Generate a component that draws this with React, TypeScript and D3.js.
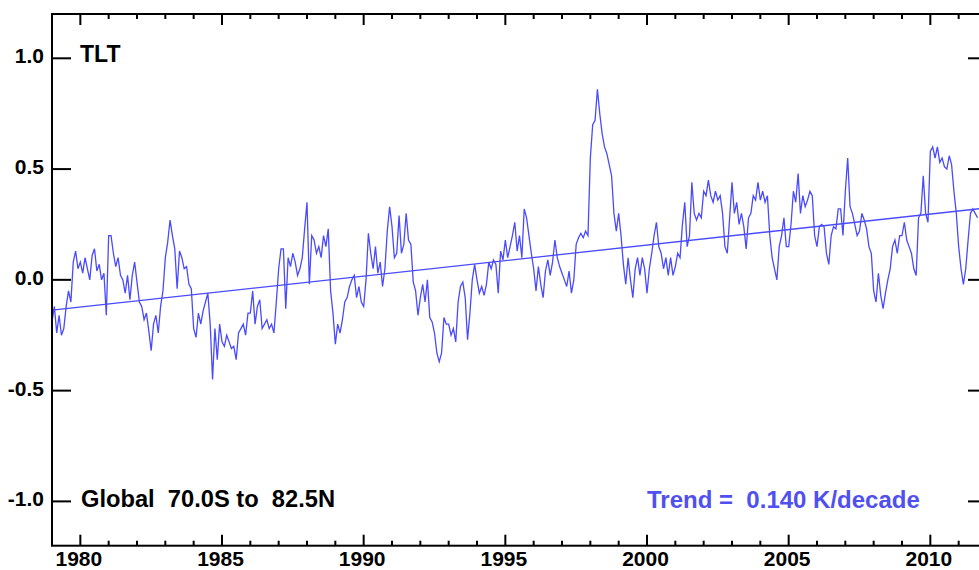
import React from "react";
import * as d3 from "d3";

// Monthly TLT anomalies (K), Jan of each year onward
const y1979 = [-0.19, -0.12, -0.24, -0.16, -0.25, -0.22, -0.12, -0.05, -0.10, 0.08, 0.13, 0.05];
const y1980 = [0.08, 0.03, 0.10, 0.05, 0.00, 0.11, 0.14, 0.04, 0.07, 0.00, 0.03, -0.16];
const y1981 = [0.20, 0.20, 0.12, 0.06, 0.10, 0.02, 0.00, -0.06, 0.02, -0.09, 0.02, 0.08];
const y1982 = [-0.01, -0.10, -0.12, -0.18, -0.15, -0.23, -0.32, -0.20, -0.16, -0.24, -0.12, -0.05];
const y1983 = [0.10, 0.17, 0.27, 0.20, 0.14, -0.04, 0.13, 0.10, 0.05, 0.06, -0.02, -0.04];
const y1984 = [-0.22, -0.26, -0.15, -0.20, -0.14, -0.10, -0.06, -0.20, -0.45, -0.22, -0.36, -0.20];
const y1985 = [-0.28, -0.30, -0.25, -0.28, -0.31, -0.30, -0.36, -0.24, -0.22, -0.20, -0.25, -0.15];
const y1986 = [-0.15, -0.05, -0.20, -0.12, -0.09, -0.22, -0.20, -0.18, -0.22, -0.20, -0.24, -0.10];
const y1987 = [0.05, 0.14, 0.14, -0.13, 0.10, 0.06, 0.12, 0.08, 0.02, 0.05, 0.10, 0.23];
const y1988 = [0.35, -0.02, 0.20, 0.18, 0.12, 0.15, 0.10, 0.20, 0.15, 0.23, -0.05, -0.15];
const y1989 = [-0.29, -0.20, -0.24, -0.18, -0.10, -0.08, -0.03, 0.00, 0.02, -0.08, -0.03, -0.10];
const y1990 = [-0.12, 0.00, 0.21, 0.12, 0.05, 0.15, 0.03, 0.08, -0.03, 0.05, 0.22, 0.33];
const y1991 = [0.24, 0.10, 0.12, 0.29, 0.12, 0.16, 0.30, 0.18, 0.16, -0.01, -0.05, -0.16];
const y1992 = [-0.08, -0.02, -0.10, 0.00, -0.17, -0.19, -0.24, -0.33, -0.37, -0.33, -0.17, -0.20];
const y1993 = [-0.20, -0.25, -0.22, -0.28, -0.10, -0.03, -0.01, -0.08, -0.27, -0.15, 0.00, 0.07];
const y1994 = [0.00, -0.06, -0.03, -0.07, -0.02, 0.08, 0.05, 0.09, 0.07, -0.06, 0.13, 0.09];
const y1995 = [0.18, 0.10, 0.15, 0.20, 0.26, 0.13, 0.20, 0.10, 0.32, 0.28, 0.20, 0.12];
const y1996 = [0.05, -0.05, 0.06, -0.02, -0.08, 0.04, 0.09, 0.02, 0.08, 0.18, 0.10, 0.06];
const y1997 = [0.03, 0.00, -0.03, 0.04, -0.06, 0.00, 0.16, 0.19, 0.21, 0.19, 0.22, 0.20];
const y1998 = [0.55, 0.70, 0.72, 0.86, 0.75, 0.66, 0.60, 0.57, 0.52, 0.47, 0.30, 0.22];
const y1999 = [0.30, 0.20, 0.07, -0.02, 0.10, 0.00, -0.08, 0.05, 0.10, 0.02, 0.10, 0.05];
const y2000 = [-0.06, 0.05, 0.12, 0.20, 0.26, 0.15, 0.12, 0.05, 0.10, 0.02, 0.10, 0.02];
const y2001 = [0.06, 0.12, 0.10, 0.25, 0.35, 0.15, 0.20, 0.44, 0.30, 0.27, 0.30, 0.28];
const y2002 = [0.40, 0.38, 0.45, 0.38, 0.35, 0.40, 0.36, 0.38, 0.30, 0.15, 0.12, 0.28];
const y2003 = [0.44, 0.30, 0.35, 0.25, 0.30, 0.24, 0.14, 0.28, 0.30, 0.38, 0.36, 0.44];
const y2004 = [0.36, 0.40, 0.35, 0.38, 0.20, 0.10, 0.05, 0.00, 0.15, 0.20, 0.28, 0.15];
const y2005 = [0.15, 0.25, 0.40, 0.35, 0.48, 0.30, 0.38, 0.33, 0.36, 0.40, 0.38, 0.20];
const y2006 = [0.15, 0.24, 0.25, 0.24, 0.12, 0.07, 0.20, 0.24, 0.23, 0.32, 0.32, 0.20];
const y2007 = [0.40, 0.55, 0.33, 0.30, 0.25, 0.20, 0.22, 0.30, 0.27, 0.23, 0.15, 0.12];
const y2008 = [-0.05, -0.10, 0.03, -0.07, -0.13, -0.06, 0.00, 0.05, 0.15, 0.18, 0.12, 0.20];
const y2009 = [0.20, 0.26, 0.18, 0.15, 0.12, 0.05, 0.02, 0.28, 0.30, 0.47, 0.30, 0.26];
const y2010 = [0.58, 0.60, 0.55, 0.60, 0.53, 0.55, 0.51, 0.50, 0.56, 0.52, 0.40, 0.30];
const y2011 = [0.15, 0.05, -0.02, 0.05, 0.18, 0.30, 0.32, 0.30, 0.28];

const anomalies = [
  ...y1979, ...y1980, ...y1981, ...y1982, ...y1983, ...y1984, ...y1985, ...y1986,
  ...y1987, ...y1988, ...y1989, ...y1990, ...y1991, ...y1992, ...y1993, ...y1994,
  ...y1995, ...y1996, ...y1997, ...y1998, ...y1999, ...y2000, ...y2001, ...y2002,
  ...y2003, ...y2004, ...y2005, ...y2006, ...y2007, ...y2008, ...y2009, ...y2010, ...y2011,
];

const startYear = 1979;
const xDomain = [1979, 2012];
const yDomain = [-1.2, 1.2];
const yTickValues = [-1.0, -0.5, 0.0, 0.5, 1.0];
const yTickLabels = ["-1.0", "-0.5", "0.0", "0.5", "1.0"];
const majorYears = [1980, 1985, 1990, 1995, 2000, 2005, 2010];
const minorYears = d3.range(1979, 2013);
const trendPerDecade = 0.14;
const trendAtStart = -0.137;

const titleText = "TLT";
const regionText = "Global  70.0S to  82.5N";
const trendText = "Trend =  0.140 K/decade";

const W = 979;
const H = 570;
const left = 52;
const right = 987;
const top = 14;
const bottom = 545.7;
const blue = "#4a4aff";
const font = "'Liberation Sans', Arial, sans-serif";

export default function App() {
  const x = d3.scaleLinear().domain(xDomain).range([left, right]);
  const y = d3.scaleLinear().domain(yDomain).range([bottom, top]);

  const pts = anomalies.map((v, i) => [startYear + i / 12, v] as [number, number]);
  const line = d3
    .line<[number, number]>()
    .x((d) => x(d[0]))
    .y((d) => y(d[1]));

  const trendPts: [number, number][] = xDomain.map((t) => [
    t,
    trendAtStart + (trendPerDecade / 10) * (t - startYear),
  ]);

  return (
    <svg
      width={W}
      height={H}
      style={{ position: "absolute", left: 0, top: 0, background: "#fff" }}
      fontFamily={font}
      fontWeight="bold"
    >
      <rect x={0} y={0} width={W} height={H} fill="#fff" />
      {/* data */}
      <path d={line(pts) || ""} fill="none" stroke={blue} strokeWidth={1.3} />
      <path d={line(trendPts) || ""} fill="none" stroke={blue} strokeWidth={1.3} />

      {/* frame */}
      <rect
        x={left}
        y={top}
        width={right - left}
        height={bottom - top}
        fill="none"
        stroke="#000"
        strokeWidth={2}
      />

      {/* x ticks */}
      {minorYears.map((yr) => {
        const major = majorYears.includes(yr);
        const len = major ? 11 : 5;
        return (
          <g key={yr}>
            <line x1={x(yr)} x2={x(yr)} y1={top} y2={top + len} stroke="#000" strokeWidth={2} />
            <line x1={x(yr)} x2={x(yr)} y1={bottom} y2={bottom - len} stroke="#000" strokeWidth={2} />
          </g>
        );
      })}
      {majorYears.map((yr) => (
        <text key={yr} x={x(yr) - 1.5} y={566} textAnchor="middle" fontSize={21} fill="#000">
          {yr}
        </text>
      ))}

      {/* y ticks */}
      {yTickValues.map((v, i) => (
        <g key={v}>
          <line x1={left} x2={left + 19} y1={y(v)} y2={y(v)} stroke="#000" strokeWidth={2} />
          <line x1={right - 19} x2={right} y1={y(v)} y2={y(v)} stroke="#000" strokeWidth={2} />
          <text x={44} y={y(v) + 5} textAnchor="end" fontSize={21} fill="#000">
            {yTickLabels[i]}
          </text>
        </g>
      ))}

      <text x={80} y={62} fontSize={23} fill="#000" style={{ whiteSpace: "pre" }}>
        {titleText}
      </text>
      <text x={81} y={507} fontSize={23.7} fill="#000" style={{ whiteSpace: "pre" }}>
        {regionText}
      </text>
      <text x={647} y={507.5} fontSize={24} fill="#5050f0" style={{ whiteSpace: "pre" }}>
        {trendText}
      </text>
    </svg>
  );
}
